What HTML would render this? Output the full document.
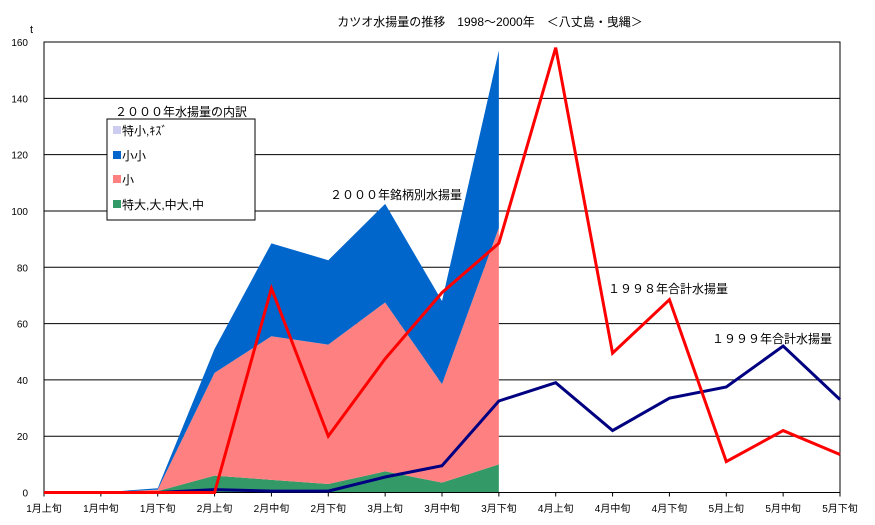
<!DOCTYPE html>
<html><head><meta charset="utf-8"><style>
body{margin:0;background:#fff;}
svg{display:block;font-family:"Liberation Sans","Noto Sans CJK JP",sans-serif;}
</style></head><body>
<svg id="chart" width="875" height="525" viewBox="0 0 875 525">
<text x="490" y="26" font-size="12" text-anchor="middle">カツオ水揚量の推移　1998～2000年　＜八丈島・曳縄＞</text>
<text x="30" y="33" font-size="11">t</text>
<g id="grid"></g><g id="areas"></g><g id="axes"></g><g id="lines"></g>
<g>
<text x="115" y="116" font-size="12">２０００年水揚量の内訳</text>
<rect x="107" y="119" width="148" height="101" fill="#fff" stroke="#000"/>
<g><rect x="113" y="126" width="8" height="8" fill="#ccccf0"/><text x="122" y="135" font-size="12">特小,ｷｽﾞ</text></g>
<g><rect x="113" y="151" width="8" height="8" fill="#0066cc"/><text x="122" y="160" font-size="12">小小</text></g>
<g><rect x="113" y="175" width="8" height="8" fill="#ff8080"/><text x="122" y="184" font-size="12">小</text></g>
<g><rect x="113" y="200" width="8" height="8" fill="#339966"/><text x="122" y="209" font-size="12">特大,大,中大,中</text></g>
</g>
<text x="330" y="199" font-size="12">２０００年銘柄別水揚量</text>
<text x="608" y="293" font-size="12">１９９８年合計水揚量</text>
<text x="712" y="343" font-size="12">１９９９年合計水揚量</text>
</svg>
<script>
const categories=["1月上旬","1月中旬","1月下旬","2月上旬","2月中旬","2月下旬","3月上旬","3月中旬","3月下旬","4月上旬","4月中旬","4月下旬","5月上旬","5月中旬","5月下旬"];
const yTicks=[0,20,40,60,80,100,120,140,160];
const total1998=[0,0,0,0,72.5,20,47.5,71,88.5,158,49.5,68.5,11,22,13.5];
const total1999=[0,0,0,1,0.5,0.5,5.5,9.5,32.5,39,22,33.5,37.5,52,33];
const large2000=[0,0,0.5,6,4.5,3,7.5,3.5,10];
const shou2000=[0,0,0.5,36.5,51,49.5,60,35,84];
const shoushou2000=[0,0,0.5,8.5,33,30,35,29.5,63];
const tokushou2000=[0,0,0,0,0,0,0,0,0];
const X0=44,X1=840,Y0=492.5,Y1=42;
const xs=i=>X0+i*(X1-X0)/(categories.length-1);
const ys=v=>Y0-v*(Y0-Y1)/160;
const NS="http://www.w3.org/2000/svg";
function mk(tag,attrs,parent){const e=document.createElementNS(NS,tag);for(const k in attrs)e.setAttribute(k,attrs[k]);document.getElementById(parent).appendChild(e);return e;}
yTicks.forEach(t=>{
 if(t>0){const g=mk('line',{x1:X0,x2:X1,y1:ys(t),y2:ys(t),stroke:'#000','stroke-width':1},'grid');
 
 }
 const l=mk('text',{x:28,y:ys(t)+4,'font-size':10,'text-anchor':'end'},'axes');l.textContent=t;
 
 
});
const layers=[large2000,shou2000,shoushou2000,tokushou2000];
const colors=['#339966','#ff8080','#0066cc','#ccccf0'];
const names=['area-large','area-shou','area-shoushou','area-tokushou'];
const cum=large2000.map(()=>0);
layers.forEach((arr,k)=>{
 const lower=cum.slice();arr.forEach((v,i)=>cum[i]+=v);
 let d='';arr.forEach((v,i)=>{d+=(i?'L':'M')+xs(i)+','+ys(cum[i]);});
 for(let i=arr.length-1;i>=0;i--)d+='L'+xs(i)+','+ys(lower[i]);
 const p=mk('path',{d:d+'Z',fill:colors[k]},'areas');
 
 
});
const frame=mk('path',{d:`M${X0},${Y1}H${X1}V${Y0}H${X0}Z`,fill:'none',stroke:'#000','stroke-width':1},'axes');


categories.forEach((c,i)=>{
 mk('line',{x1:xs(i),x2:xs(i),y1:Y0,y2:Y0+4,stroke:'#000'},'axes');
 const t=mk('text',{x:xs(i),y:512,'font-size':10,'text-anchor':'middle'},'axes');t.textContent=c;
 
 
});
[[total1999,'#000080','line-1999'],[total1998,'#ff0000','line-1998']].forEach(([arr,col,nm])=>{
 const pts=arr.map((v,i)=>xs(i)+','+ys(v)).join(' ');
 const l=mk('polyline',{points:pts,fill:'none',stroke:col,'stroke-width':3,'stroke-linejoin':'miter'},'lines');
 
 
});
</script>
</body></html>
